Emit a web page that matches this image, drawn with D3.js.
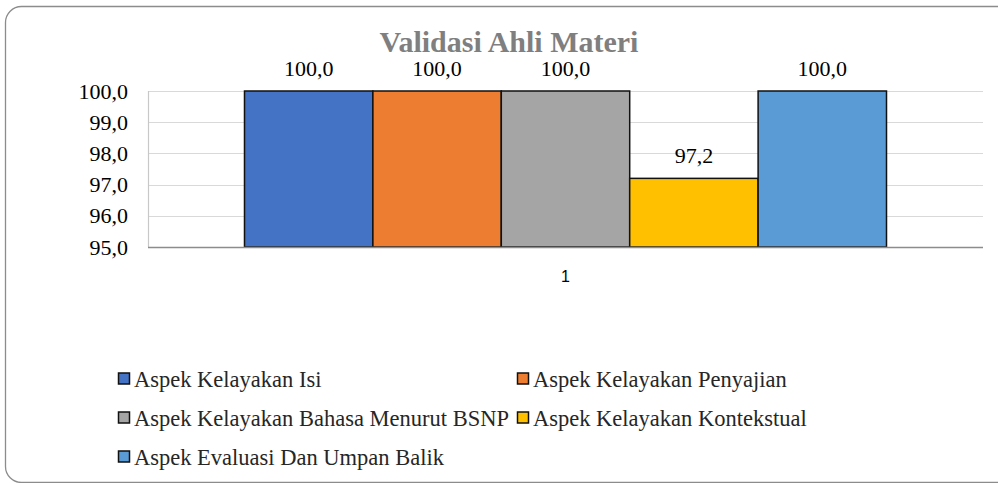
<!DOCTYPE html>
<html>
<head>
<meta charset="utf-8">
<script src="https://cdn.jsdelivr.net/npm/d3@7"></script>
<style>
  html, body { margin: 0; padding: 0; background: #fff; }
  svg { display: block; }
  svg text { font-family: "Liberation Serif", "Times New Roman", serif; }
</style>
</head>
<body>
<svg id="chart" width="998" height="483"></svg>
<script>
const categories = ["1"];
const seriesNames = [
  "Aspek Kelayakan Isi",
  "Aspek Kelayakan Penyajian",
  "Aspek Kelayakan Bahasa Menurut BSNP",
  "Aspek Kelayakan Kontekstual",
  "Aspek Evaluasi Dan Umpan Balik"
];
const seriesValues = [100.0, 100.0, 100.0, 97.2, 100.0];
const seriesColors = ["#4472C4", "#ED7D31", "#A5A5A5", "#FFC000", "#5B9BD5"];
const yTicks = [95, 96, 97, 98, 99, 100];

const SERIF = "Liberation Serif";
const svg = d3.select("#chart");
const fmt = v => v.toFixed(1).replace(".", ",");

// chart frame
svg.append("rect")
    .attr("x", 5.5).attr("y", 6.5)
    .attr("width", 1010).attr("height", 476)
    .attr("rx", 16).attr("ry", 16)
    .attr("fill", "#fff")
    .attr("stroke", "#8c8c8c")
    .attr("stroke-width", 1.3);

const plot = { left: 148, right: 983, top: 91, bottom: 247 };

const y = d3.scaleLinear().domain([95, 100]).range([plot.bottom, plot.top]);
const x0 = d3.scaleBand().domain(categories).range([plot.left, plot.right])
    .paddingInner(0).paddingOuter(0.1503);
const x1 = d3.scaleBand().domain(seriesNames).range([0, x0.bandwidth()]);

// gridlines
svg.append("g")
  .selectAll("line")
  .data(yTicks.slice(1))
  .join("line")
    .attr("x1", plot.left).attr("x2", plot.right)
    .attr("y1", d => Math.round(y(d)) + 0.5).attr("y2", d => Math.round(y(d)) + 0.5)
    .attr("stroke", "#d9d9d9").attr("stroke-width", 1.2);

// left edge of plot
svg.append("line")
    .attr("x1", plot.left + 0.5).attr("x2", plot.left + 0.5)
    .attr("y1", plot.top).attr("y2", plot.bottom)
    .attr("stroke", "#c8c8c8").attr("stroke-width", 1.2);

// y axis labels
const yAxis = svg.append("g")
    .attr("transform", `translate(${plot.left},0)`)
    .call(d3.axisLeft(y).tickValues(yTicks).tickFormat(fmt).tickSize(0).tickPadding(20));
yAxis.select(".domain").remove();
yAxis.attr("font-family", SERIF);
yAxis.selectAll("text")
    .attr("font-size", 22)
    .attr("font-family", SERIF)
    .attr("fill", "#000");

// bars
const groups = svg.append("g")
  .selectAll("g")
  .data(categories)
  .join("g")
    .attr("transform", d => `translate(${x0(d)},0)`);

groups.selectAll("rect")
  .data(() => seriesNames.map((n, i) => ({ name: n, value: seriesValues[i], color: seriesColors[i] })))
  .join("rect")
    .attr("x", d => x1(d.name))
    .attr("y", d => y(d.value))
    .attr("width", x1.bandwidth())
    .attr("height", d => y(95) - y(d.value))
    .attr("fill", d => d.color)
    .attr("stroke", "#111")
    .attr("stroke-width", 1.5);

groups.selectAll("text")
  .data(() => seriesNames.map((n, i) => ({ name: n, value: seriesValues[i] })))
  .join("text")
    .attr("x", d => x1(d.name) + x1.bandwidth() / 2)
    .attr("y", d => y(d.value) - 15)
    .attr("text-anchor", "middle")
    .attr("font-family", SERIF)
    .attr("font-size", 22)
    .attr("fill", "#000")
    .text(d => fmt(d.value));

// x axis baseline
svg.append("line")
    .attr("x1", plot.left).attr("x2", plot.right)
    .attr("y1", plot.bottom + 0.5).attr("y2", plot.bottom + 0.5)
    .attr("stroke", "#8c8c8c").attr("stroke-width", 1.5);

// category label
const xAxis = svg.append("g")
    .attr("transform", `translate(0,${plot.bottom})`)
    .call(d3.axisBottom(x0).tickSize(0).tickPadding(24));
xAxis.select(".domain").remove();
xAxis.selectAll("text")
    .attr("font-size", 16)
    .style("font-family", "'Liberation Sans', Arial, sans-serif")
    .attr("fill", "#000");

// title
svg.append("text")
    .attr("x", 509).attr("y", 52)
    .attr("text-anchor", "middle")
    .attr("font-family", SERIF)
    .attr("font-size", 30)
    .attr("font-weight", "bold")
    .attr("fill", "#7f7f7f")
    .text("Validasi Ahli Materi");

// legend
const legendPos = [[118, 379], [517, 379], [118, 418], [517, 418], [118, 457]];
const legend = svg.append("g")
  .selectAll("g")
  .data(seriesNames)
  .join("g")
    .attr("transform", (d, i) => `translate(${legendPos[i][0]},${legendPos[i][1]})`);

legend.append("rect")
    .attr("x", 0.5).attr("y", -6)
    .attr("width", 11).attr("height", 11)
    .attr("fill", (d, i) => seriesColors[i])
    .attr("stroke", "#111").attr("stroke-width", 1.5);

legend.append("text")
    .attr("x", 16).attr("y", 0)
    .attr("dy", "0.35em")
    .attr("font-family", SERIF)
    .attr("font-size", 22.5)
    .attr("fill", "#262626")
    .text(d => d);
</script>
</body>
</html>
